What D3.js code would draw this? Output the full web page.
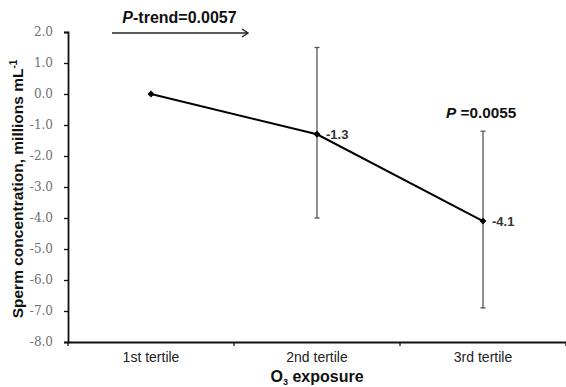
<!DOCTYPE html>
<html><head><meta charset="utf-8">
<script src="https://cdn.jsdelivr.net/npm/d3@7"></script>
<style>body{margin:0;background:#fff}</style>
</head><body>
<svg id="c" width="566" height="387"></svg>
<script>
const categories = ["1st tertile","2nd tertile","3rd tertile"];
const values = [0.0, -1.3, -4.1];
const upper = [null, 1.5, -1.2];
const lower = [null, -4.0, -6.9];
const valueLabels = [null, "-1.3", "-4.1"];
const yTicks = [2,1,0,-1,-2,-3,-4,-5,-6,-7,-8];

const svg = d3.select("#c");
const m = {left:68, right:0, top:32, bottom:45};
const W = 566, H = 387;
const x = d3.scaleBand().domain(categories).range([m.left, W]).padding(0);
const y = d3.scaleLinear().domain([-8, 2]).range([H - m.bottom, m.top]);
const SANS = "Liberation Sans, Arial, sans-serif";

// Y axis
const ya = svg.append("g").attr("transform",`translate(${m.left},0)`)
  .call(d3.axisLeft(y).tickValues(yTicks).tickSize(4).tickFormat(d => d.toFixed(1)));
ya.select(".domain").attr("stroke","#111").attr("stroke-width",1.8);
ya.selectAll(".tick line").attr("stroke","#111").attr("stroke-width",1.3);
ya.selectAll(".tick text")
  .style("font-family","'DejaVu Serif', serif").style("font-size","12px")
  .attr("fill","#6e6e6e").attr("x",-15);

// X axis
const xa = svg.append("g").attr("transform",`translate(0,${y(-8)})`)
  .call(d3.axisBottom(x).tickSize(0));
xa.select(".domain").attr("stroke","#111").attr("stroke-width",1.8);
xa.selectAll(".tick text").style("font-family",SANS)
  .style("font-size","14px").attr("fill","#222").attr("dy","1.2em");
const bounds = categories.map(c => x(c)).concat([x(categories[2]) + x.bandwidth()]);
svg.append("g").selectAll("line").data(bounds).join("line")
  .attr("x1",d=>d).attr("x2",d=>d).attr("y1",y(-8)).attr("y2",y(-8)+4)
  .attr("stroke","#111").attr("stroke-width",1.3);

const cx = c => x(c) + x.bandwidth()/2;

// error bars
const eb = categories.map((c,i)=>({c,u:upper[i],l:lower[i]})).filter(d=>d.u!==null);
const g = svg.append("g");
eb.forEach(d=>{
  g.append("line").attr("x1",cx(d.c)).attr("x2",cx(d.c)).attr("y1",y(d.u)).attr("y2",y(d.l))
    .attr("stroke","#555").attr("stroke-width",1.3);
  [d.u,d.l].forEach(v=>g.append("line").attr("x1",cx(d.c)-2.5).attr("x2",cx(d.c)+2.5)
    .attr("y1",y(v)).attr("y2",y(v)).attr("stroke","#555").attr("stroke-width",1.3));
});

// line
const line = d3.line().x((d,i)=>cx(categories[i])).y(d=>y(d));
svg.append("path").datum(values).attr("d",line).attr("fill","none")
  .attr("stroke","#000").attr("stroke-width",2);
svg.append("g").selectAll("path").data(values).join("path")
  .attr("d",d3.symbol(d3.symbolSquare,24)())
  .attr("transform",(d,i)=>`translate(${cx(categories[i])},${y(d)}) rotate(45)`).attr("fill","#000");

// value labels
svg.append("g").selectAll("text").data(values.map((v,i)=>({v,i})).filter(d=>valueLabels[d.i]))
  .join("text").attr("x",d=>cx(categories[d.i])+9).attr("y",d=>y(d.v)+4.5)
  .attr("font-family",SANS).attr("font-size",13)
  .attr("font-weight","bold").attr("fill","#333").text(d=>valueLabels[d.i]);

// P annotation
const pt = svg.append("text").attr("x",446).attr("y",118)
  .attr("font-family",SANS).attr("font-size",15.3)
  .attr("font-weight","bold").attr("fill","#111");
pt.append("tspan").attr("font-style","italic").text("P");
pt.append("tspan").text(" =0.0055");

// P-trend with arrow
const tt = svg.append("text").attr("x",179.5).attr("y",23).attr("text-anchor","middle")
  .attr("font-family",SANS).attr("font-size",16)
  .attr("font-weight","bold").attr("fill","#111");
tt.append("tspan").attr("font-style","italic").text("P");
tt.append("tspan").text("-trend=0.0057");
svg.append("line").attr("x1",112).attr("x2",248).attr("y1",33).attr("y2",33)
  .attr("stroke","#222").attr("stroke-width",1.4);
svg.append("path").attr("d","M242,29 L248,33 L242,37").attr("fill","none")
  .attr("stroke","#222").attr("stroke-width",1.4);

// axis titles
const yt = svg.append("text").attr("transform",`translate(23,${(y(2)+y(-8))/2+2}) rotate(-90)`)
  .attr("text-anchor","middle").attr("font-family",SANS)
  .attr("font-size",15.5).attr("font-weight","bold").attr("fill","#111");
yt.append("tspan").text("Sperm concentration, millions mL");
yt.append("tspan").attr("dy",-6).attr("font-size",10).text("-1");

const xt = svg.append("text").attr("x",317).attr("y",382).attr("text-anchor","middle")
  .attr("font-family",SANS)
  .attr("font-size",16).attr("font-weight","bold").attr("fill","#111");
xt.append("tspan").text("O");
xt.append("tspan").attr("dy",2.5).attr("font-size",9).text("3");
xt.append("tspan").attr("dy",-2.5).text(" exposure");
</script>
</body></html>
